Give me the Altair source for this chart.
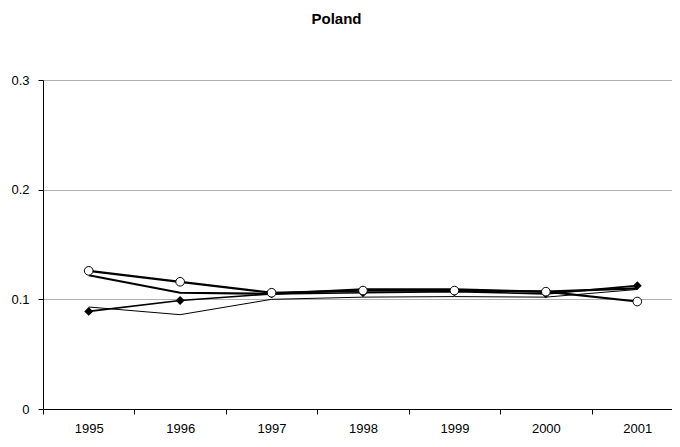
import altair as alt
import pandas as pd

years = ["1995", "1996", "1997", "1998", "1999", "2000", "2001"]
series_circle = [0.126, 0.116, 0.106, 0.108, 0.108, 0.107, 0.098]
series_thick = [0.122, 0.106, 0.105, 0.109, 0.109, 0.107, 0.110]
series_diamond = [0.089, 0.099, 0.105, 0.106, 0.107, 0.105, 0.1125]
series_thin = [0.093, 0.086, 0.100, 0.102, 0.1025, 0.102, 0.109]

rows = []
for name, vals in [("circle", series_circle), ("thick", series_thick),
                   ("diamond", series_diamond), ("thin", series_thin)]:
    for y, v in zip(years, vals):
        rows.append({"year": y, "value": v, "series": name})
df = pd.DataFrame(rows)

FONT = "Liberation Sans"

x_enc = alt.X(
    "year:O",
    scale=alt.Scale(paddingInner=0, paddingOuter=0, range=[0, 640]),
    axis=alt.Axis(
        title=None, labelAngle=0, tickBand="extent", grid=False,
        domainColor="black", tickColor="black", tickSize=5,
        labelPadding=8, labelFont=FONT, labelFontSize=13, labelColor="black",
    ),
)
y_enc = alt.Y(
    "value:Q",
    scale=alt.Scale(domain=[0, 0.3], nice=False, zero=True),
    axis=alt.Axis(
        title=None, values=[0, 0.1, 0.2, 0.3],
        labelExpr="datum.value == 0 ? '0' : format(datum.value, '.1f')",
        domainColor="black", tickColor="black", tickSize=5,
        gridColor="#b0b0b0", gridWidth=1,
        labelPadding=9, labelFont=FONT, labelFontSize=13, labelColor="black",
    ),
)

base = alt.Chart(df).encode(x=x_enc, y=y_enc)

thin_line = base.transform_filter(alt.datum.series == "thin").mark_line(
    color="black", strokeWidth=1)
thick_line = base.transform_filter(alt.datum.series == "thick").mark_line(
    color="black", strokeWidth=2.2)
diamond_line = base.transform_filter(alt.datum.series == "diamond").mark_line(
    color="black", strokeWidth=1.6)
circle_line = base.transform_filter(alt.datum.series == "circle").mark_line(
    color="black", strokeWidth=2.2)
diamond_pts = base.transform_filter(alt.datum.series == "diamond").mark_point(
    shape="diamond", filled=True, color="black", size=80, opacity=1)
circle_pts = base.transform_filter(alt.datum.series == "circle").mark_point(
    shape="circle", filled=True, fill="white", stroke="black", strokeWidth=1,
    size=75, opacity=1)

chart = alt.layer(
    thin_line, thick_line, diamond_line, circle_line, diamond_pts, circle_pts
).properties(
    width=629,
    height=329,
    title=alt.TitleParams(
        "Poland", font=FONT, fontSize=15, fontWeight="bold", color="black",
        anchor="middle", dx=-21, baseline="bottom", offset=32,
    ),
    autosize=alt.AutoSizeParams(type="none"),
    padding={"left": 35, "top": 72, "right": 0, "bottom": 25},
).configure_view(stroke=None).configure(background="white")

chart.save("out.html", embed_options={"renderer": "svg", "actions": False})
